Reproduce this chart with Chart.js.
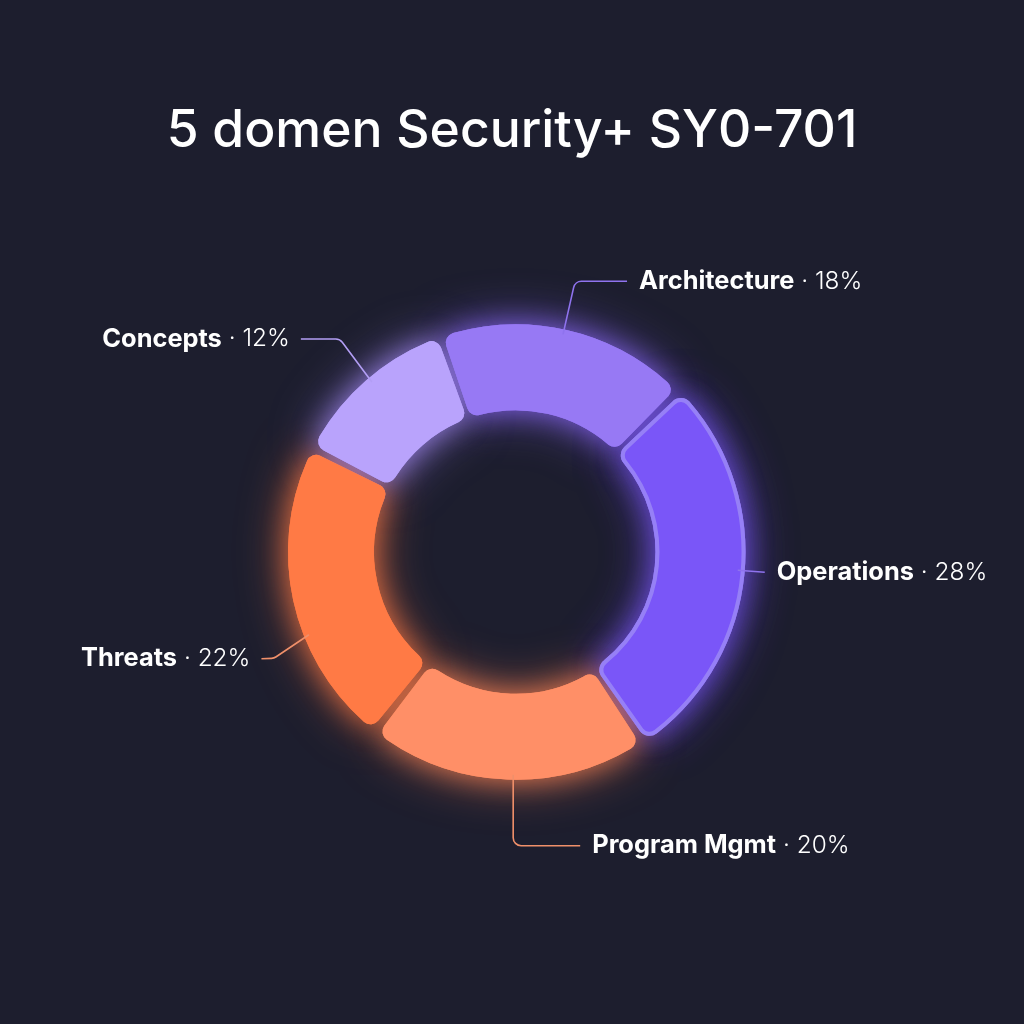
<!DOCTYPE html>
<html>
<head>
<meta charset="utf-8">
<style>
html,body{margin:0;padding:0;background:#1d1e2e;}
#wrap{width:1024px;height:1024px;position:relative;}
</style>
<script src="https://cdn.jsdelivr.net/npm/chart.js@4"></script>
</head>
<body>
<div id="wrap"><canvas id="c" width="1024" height="1024"></canvas></div>
<script>
const titleText = "5 domen Security+ SY0-701";
const categories = ["Architecture","Operations","Program Mgmt","Threats","Concepts"];
const shares = [18,28,20,22,12];
const fillColors = ["#9779f4","#7a56f8","#ff8f67","#ff7a45","#b9a3fc"];
const glowColors = ["#8a68f6","#7a56f8","#ff8555","#ff7a45","#a78cf9"];
const edgeColors = ["#9779f4","#9680f6","#ff8f67","#ff7a45","#b9a3fc"];
const edgeWidths = [0,4,0,0,0];
const leaderColors = ["#8f73ee","#8f73ee","#f0906a","#f0906a","#b39ef5"];
// Leader geometry: anchor fraction through each arc, then elbow offsets from the anchor.
const anchorFractions = [0.49,0.49,0.48,0.38,0.52];
const leaderBends = [
  [[12,-53],[64,-53]],
  [[27,2]],
  [[0,71],[67,71]],
  [[-35,23.5],[-47.5,24]],
  [[-32,-43],[-71,-43]]
];
const labelSides = ["left","left","left","right","right"];

const font = '"Inter","Liberation Sans",sans-serif';
const ringGlow = {
  id:"ringGlow",
  beforeDatasetDraw(chart){
    const ctx = chart.ctx;
    chart.getDatasetMeta(0).data.forEach((arc,i)=>{
      [[48,0.7],[26,0.6]].forEach(([blur,alpha])=>{
        ctx.save();
        ctx.globalAlpha = alpha;
        ctx.shadowColor = glowColors[i];
        ctx.shadowBlur = blur;
        arc.draw(ctx);
        ctx.restore();
      });
    });
  }
};
const annotations = {
  id:"annotations",
  afterDraw(chart){
    const ctx = chart.ctx;
    ctx.save();
    // title
    ctx.fillStyle = "#ffffff";
    ctx.font = '500 51.6px '+font;
    ctx.textAlign = "center";
    ctx.textBaseline = "middle";
    ctx.fillText(titleText, 512, 131);
    chart.getDatasetMeta(0).data.forEach((arc,i)=>{
      const p = arc.getProps(["x","y","startAngle","endAngle","outerRadius"],true);
      const a = p.startAngle + (p.endAngle-p.startAngle)*anchorFractions[i];
      const ax = p.x + Math.cos(a)*p.outerRadius;
      const ay = p.y + Math.sin(a)*p.outerRadius;
      const pts = leaderBends[i].map(b=>[ax+b[0],ay+b[1]]);
      ctx.beginPath();
      ctx.moveTo(ax,ay);
      if(pts.length===2){
        ctx.arcTo(pts[0][0],pts[0][1],pts[1][0],pts[1][1],8);
        ctx.lineTo(pts[1][0],pts[1][1]);
      } else {
        ctx.lineTo(pts[0][0],pts[0][1]);
      }
      ctx.strokeStyle = leaderColors[i];
      ctx.lineWidth = 1.6;
      ctx.stroke();
      const end = pts[pts.length-1];
      const bold = categories[i];
      const light = " \u00b7 "+shares[i]+"%";
      ctx.textBaseline = "middle";
      ctx.textAlign = "left";
      ctx.fillStyle = "#ffffff";
      ctx.font = '700 25.4px '+font;
      const bw = ctx.measureText(bold).width;
      ctx.font = '300 24.4px '+font;
      const lw = ctx.measureText(light).width;
      const x = labelSides[i]==="left" ? end[0]+12 : end[0]-11-bw-lw;
      ctx.font = '700 25.4px '+font;
      ctx.fillText(bold,x,end[1]);
      ctx.font = '300 24.4px '+font;
      ctx.fillText(light,x+bw,end[1]);
    });
    ctx.restore();
  }
};
new Chart(document.getElementById("c"),{
  type:"doughnut",
  data:{labels:categories,datasets:[{
    data:shares,
    backgroundColor:fillColors,
    borderColor:edgeColors,
    borderWidth:edgeWidths,
    borderAlign:"center",
    borderRadius:10,
    spacing:10
  }]},
  options:{
    responsive:false,
    animation:false,
    rotation:-19.5,
    cutout:"61.4%",
    layout:{padding:{left:286,right:278.5,top:322,bottom:242}},
    plugins:{legend:{display:false},tooltip:{enabled:false},title:{display:false}}
  },
  plugins:[ringGlow,annotations]
});
</script>
</body>
</html>
